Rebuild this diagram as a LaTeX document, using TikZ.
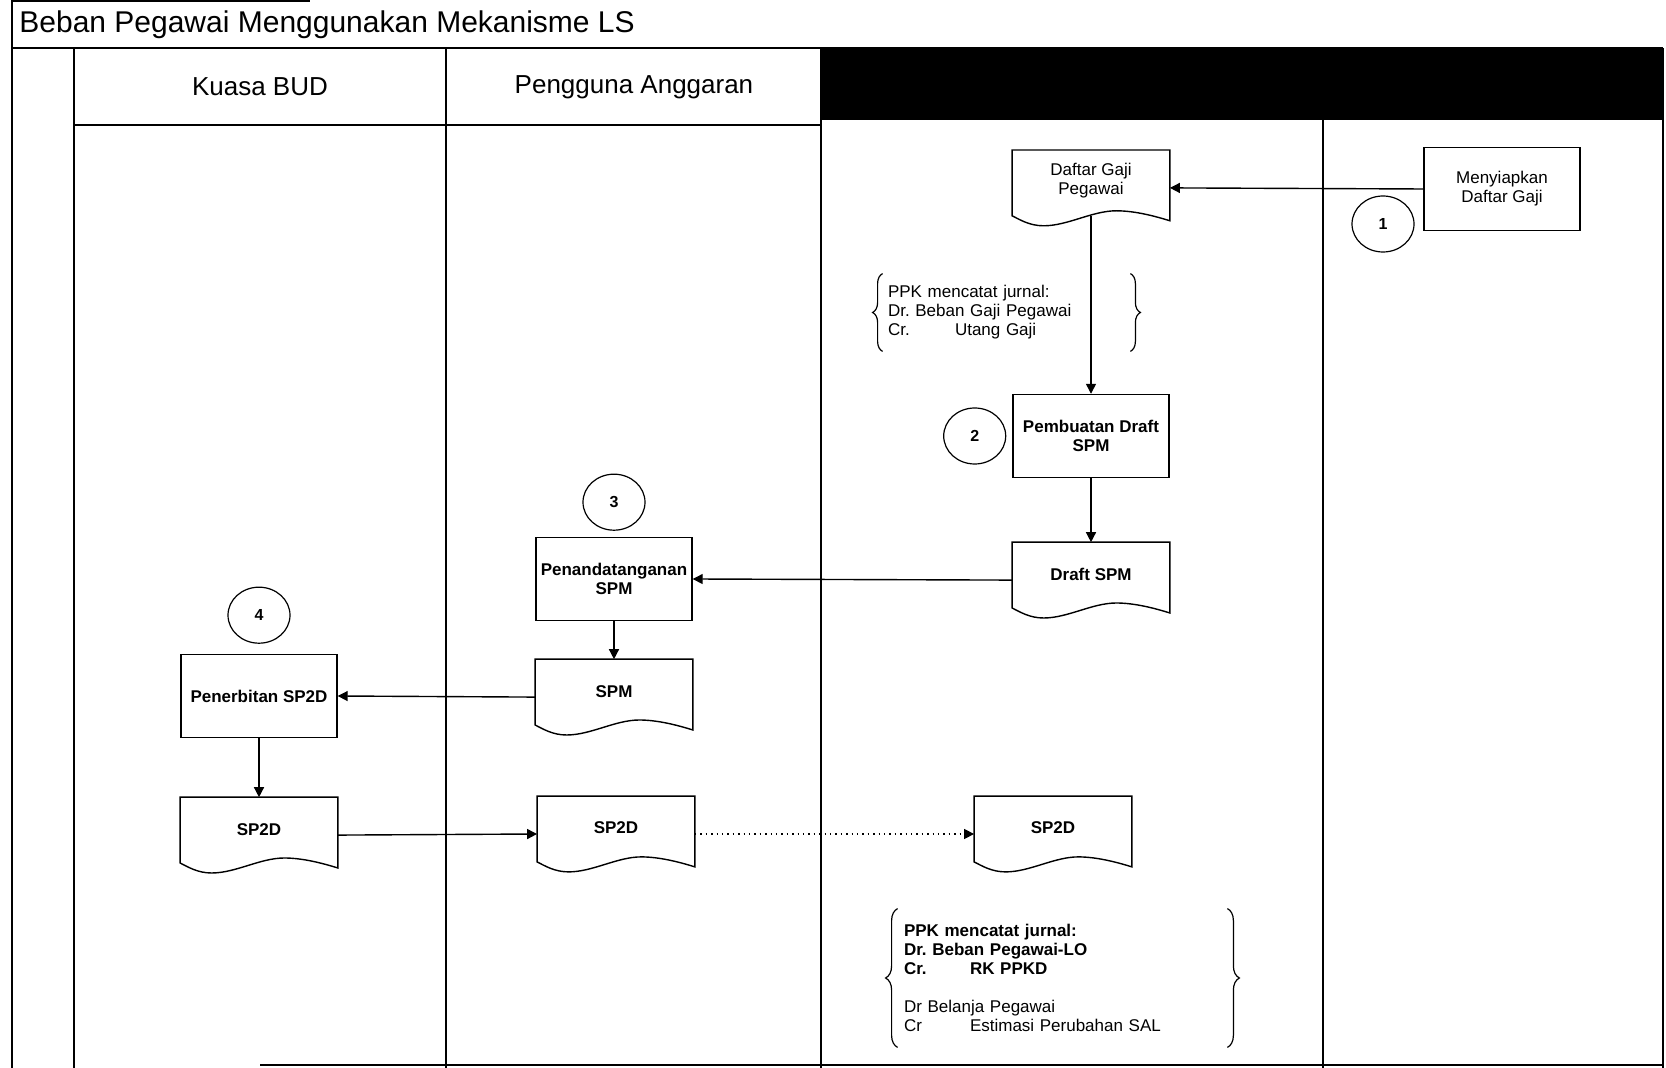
\documentclass[tikz,border=0pt]{standalone}
\usepackage{fontspec}
\setmainfont{Liberation Sans}
\usetikzlibrary{shapes.geometric, arrows.meta, positioning, calc, decorations.pathreplacing}
\frenchspacing

\newcommand{\boxfont}{\fontsize{8.5}{9.5}\selectfont}
% outline of a document symbol (wavy bottom) round a named node
\newcommand{\docoutline}[1]{%
  \draw[line width=0.7pt] (#1.north west) -- (#1.north east) -- ([yshift=2.5pt]#1.south east)
    .. controls +(-8pt,2.5pt) and +(9pt,0pt) .. ($(#1.south west)!0.66!(#1.south east)+(0pt,7.5pt)$)
    .. controls +(-12pt,0pt) and +(12pt,0pt) .. ($(#1.south west)!0.2!(#1.south east)$)
    .. controls +(-7pt,0pt) and +(4pt,-2pt) .. ([yshift=5pt]#1.south west) -- cycle;}

\begin{document}
\begin{tikzpicture}[x=0.5pt, y=-0.5pt,
        procbox/.style={rectangle, draw=black, line width=0.7pt, minimum width=78pt, minimum height=41.5pt, align=center, inner sep=2pt, font=\boxfont\bfseries},
        doc/.style={rectangle, minimum width=78.5pt, minimum height=37.5pt, align=center, inner sep=2pt, text depth=6pt, font=\boxfont\bfseries},
        stepno/.style={ellipse, draw=black, line width=0.6pt, minimum width=31pt, minimum height=28pt, inner sep=0pt, font=\fontsize{8}{9}\selectfont\bfseries},
        journal/.style={rectangle, align=left, font=\boxfont},
        jbrace/.style={decorate, decoration={brace, amplitude=#1}, line width=0.6pt},
        lanehead/.style={anchor=base, inner sep=0pt, font=\fontsize{13}{15}\selectfont},
        lane/.style={line width=0.6pt},
        arrow/.style={-{Triangle[length=5pt,width=5pt]}, line width=0.7pt}
    ]
        \useasboundingbox (0,0) rectangle (1666,1068);

        % frame and swimlanes
        \fill[black] (821,48) rectangle (1663,120);
        \draw[lane] (12,0) -- (12,1068);
        \draw[lane] (12,1) -- (310,1);
        \draw[lane] (12,48) -- (1663,48);
        \draw[lane] (74,48) -- (74,1068);
        \draw[lane] (446,48) -- (446,1068);
        \draw[lane] (821,48) -- (821,1068);
        \draw[lane] (1323,120) -- (1323,1068);
        \draw[lane] (1663,48) -- (1663,1068);
        \draw[lane] (74,125) -- (821,125);
        \draw[lane] (260,1065) -- (1663,1065);

        \node[anchor=base west, inner sep=0pt, font=\fontsize{15}{18}\selectfont] (title) at (19,33) {Beban Pegawai Menggunakan Mekanisme LS};
        \node[lanehead] (kuasa) at (260,96) {Kuasa BUD};
        \node[lanehead] (pengguna) at (634,94) {Pengguna Anggaran};

        % right lane
        \node[procbox, font=\boxfont] (siapkan) at (1502,189) {Menyiapkan\\Daftar Gaji};
        \node[stepno] (no1) at (1383,224) {1};

        % PPK lane
        \node[procbox] (pembuatan) at (1091,436) {Pembuatan Draft\\SPM};
        \node[doc, font=\boxfont, text depth=9pt, above=84pt of pembuatan] (gaji) {Daftar Gaji\\Pegawai};
        \node[stepno, left=3pt of pembuatan] (no2) {2};
        \node[doc, below=32pt of pembuatan] (draftspm) {Draft SPM};
        \node[doc] (sptwoc) at (1053,834) {SP2D};

        \node[journal, text width=118.5pt, inner xsep=2.5pt, minimum height=38.5pt] (jurnala) at (1006.5,312.5)
            {PPK mencatat jurnal:\\Dr. Beban Gaji Pegawai\\\makebox[33.5pt][l]{Cr.}Utang Gaji};
        \node[journal, text width=158.5pt, inner xsep=3pt, minimum height=69pt] (jurnalb) at (1062.5,978)
            {\bfseries PPK mencatat jurnal:\\Dr. Beban Pegawai-LO\\\makebox[33pt][l]{Cr.}RK PPKD\\[9.5pt]\mdseries Dr Belanja Pegawai\\\makebox[33pt][l]{Cr}Estimasi Perubahan SAL};

        % Pengguna Anggaran lane
        \node[procbox] (penanda) at (614,579) {Penandatanganan\\SPM};
        \node[stepno, above=3pt of penanda] (no3) {3};
        \node[doc, below=19pt of penanda] (spm) {SPM};
        \node[doc] (sptwob) at (616,834) {SP2D};

        % Kuasa BUD lane
        \node[procbox] (terbit) at (259,696) {Penerbitan SP2D};
        \node[stepno, above=5pt of terbit] (no4) {4};
        \node[doc, below=29.5pt of terbit] (sptwoa) {SP2D};

        \foreach \d in {gaji, draftspm, spm, sptwoa, sptwob, sptwoc} {\docoutline{\d}}

        \draw[jbrace=5pt] (jurnala.south west) -- (jurnala.north west);
        \draw[jbrace=5pt] (jurnala.north east) -- (jurnala.south east);
        \draw[jbrace=6pt] (jurnalb.south west) -- (jurnalb.north west);
        \draw[jbrace=6pt] (jurnalb.north east) -- (jurnalb.south east);

        \draw[arrow] (siapkan.west) -- (gaji.east);
        \draw[arrow] ([yshift=5pt]gaji.south) -- (pembuatan.north);
        \draw[arrow] (pembuatan) -- (draftspm);
        \draw[arrow] (draftspm.west) -- (penanda.east);
        \draw[arrow] (penanda) -- (spm);
        \draw[arrow] (spm.west) -- (terbit.east);
        \draw[arrow] (terbit) -- (sptwoa);
        \draw[arrow] (sptwoa.east) -- (sptwob.west);
        \draw[arrow, dotted] (sptwob.east) -- (sptwoc.west);
    \end{tikzpicture}
\end{document}
